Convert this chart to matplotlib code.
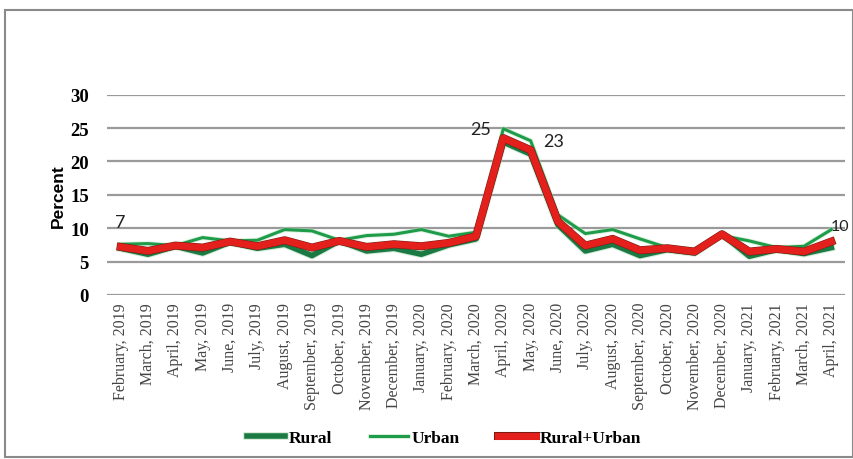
import numpy as np
import matplotlib
matplotlib.use("Agg")
import matplotlib.pyplot as plt
import matplotlib.patheffects as pe
from matplotlib.patches import Rectangle

# monthly unemployment rate, Feb 2019 - Apr 2021
months = ["February, 2019", "March, 2019", "April, 2019", "May, 2019", "June, 2019",
          "July, 2019", "August, 2019", "September, 2019", "October, 2019",
          "November, 2019", "December, 2019", "January, 2020", "February, 2020",
          "March, 2020", "April, 2020", "May, 2020", "June, 2020", "July, 2020",
          "August, 2020", "September, 2020", "October, 2020", "November, 2020",
          "December, 2020", "January, 2021", "February, 2021", "March, 2021",
          "April, 2021"]
rural = [7.0, 6.1, 7.3, 6.3, 7.9, 7.0, 7.6, 5.9, 8.1, 6.6, 7.0, 6.1, 7.5, 8.4,
         22.9, 21.1, 10.5, 6.6, 7.6, 5.9, 6.8, 6.3, 9.1, 5.8, 6.8, 6.2, 7.1]
urban = [7.6, 7.7, 7.4, 8.6, 8.1, 8.2, 9.8, 9.6, 8.2, 8.9, 9.1, 9.8, 8.8, 9.4,
         24.9, 23.1, 12.0, 9.2, 9.8, 8.4, 7.1, 6.8, 8.9, 8.1, 7.1, 7.3, 9.8]
total = [7.2, 6.6, 7.4, 7.1, 8.0, 7.3, 8.2, 7.1, 8.1, 7.2, 7.6, 7.3, 7.8, 8.8,
         23.5, 21.7, 11.0, 7.4, 8.4, 6.7, 7.0, 6.5, 9.1, 6.5, 6.9, 6.5, 8.0]

x = np.arange(len(months))

fig = plt.figure(figsize=(8.54, 4.6), dpi=100)
ax = fig.add_axes([107/854, 1 - 296/460, (845 - 107)/854, (296 - 95.7)/460])

# frame around the whole chart
fig.patches.append(Rectangle((5/854, 0.004), 848/854, 0.973, transform=fig.transFigure,
                             fill=False, edgecolor="#8a8a8a", lw=1.5))

ax.plot(x, rural, color="#1b7a43", lw=4, label="Rural",
        path_effects=[pe.Stroke(linewidth=5.5, foreground="#a8d8b0", alpha=0.5), pe.Normal()])
ax.plot(x, urban, color="#1f9c4a", lw=2.2, label="Urban",
        path_effects=[pe.Stroke(linewidth=3.5, foreground="#b8e4c0", alpha=0.5), pe.Normal()])
ax.plot(x, total, color="#e3201c", lw=5, label="Rural+Urban",
        path_effects=[pe.Stroke(linewidth=5.8, foreground="#7a1c14"), pe.Normal()])

lab_font = dict(family="Lato", fontsize=13, color="#222222")
ax.text(x[0], total[0] + 2.5, "7", ha="center", va="bottom", **lab_font)
ax.text(x[14] - 0.45, urban[14], "25", ha="right", va="center", **lab_font)
ax.text(x[15] + 0.45, 23.0, "23", ha="left", va="center", **lab_font)
ax.text(x[26] + 0.3, 10.4, "10", ha="center", va="center", clip_on=False,
        family="Lato", fontsize=11.5, color="#222222")

ax.set_xlim(-0.5, len(months) - 0.5)
ax.set_ylim(0, 30)
ax.set_yticks(range(0, 31, 5))
ax.yaxis.grid(True, color="#9a9a9a", lw=1.6)
ax.set_axisbelow(True)
for s in ax.spines.values():
    s.set_visible(False)

ax.set_xticks(x)
ax.set_xticklabels(months, rotation=90, family="Liberation Serif", fontsize=11.5,
                   color="#444444")
ax.tick_params(axis="both", length=0)
ax.tick_params(axis="x", pad=5)
ax.tick_params(axis="y", pad=13)
for t in ax.get_yticklabels():
    t.set_fontfamily("Liberation Serif")
    t.set_fontweight("bold")
    t.set_fontsize(13.5)

ax.set_ylabel("Percent", family="Liberation Sans", fontweight="bold", fontsize=12.5,
              labelpad=3)

fig.legend(loc="center", bbox_to_anchor=(0.52, 1 - 439/460), ncol=3, frameon=False,
           handlelength=2.2, handletextpad=0.2, columnspacing=2.2,
           prop=dict(family="Liberation Serif", weight="bold", size=12.5))

fig.savefig("out.png", dpi=100)
